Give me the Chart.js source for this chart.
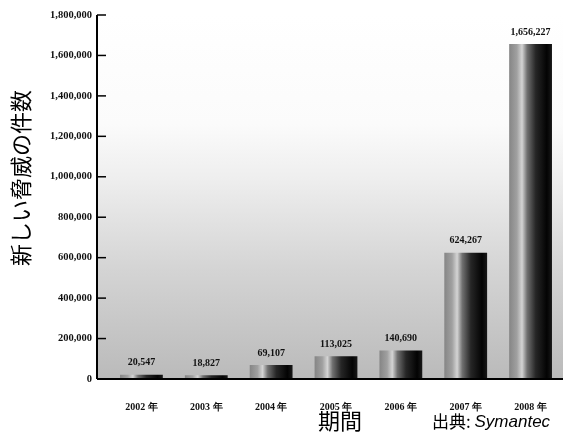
<!DOCTYPE html>
<html>
<head>
<meta charset="utf-8">
<script src="https://cdn.jsdelivr.net/npm/chart.js@4/dist/chart.umd.min.js"></script>
<style>
  html, body { margin: 0; padding: 0; background: #fff; }
  #wrap { width: 580px; height: 439px; }
</style>
</head>
<body>
<div id="wrap"><canvas id="threatChart" width="580" height="439"></canvas></div>
<script>
const years = ['2002 年', '2003 年', '2004 年', '2005 年', '2006 年', '2007 年', '2008 年'];
const threatCounts = [20547, 18827, 69107, 113025, 140690, 624267, 1656227];
const yTicks = [0, 200000, 400000, 600000, 800000, 1000000, 1200000, 1400000, 1600000, 1800000];

const yTitle = '新しい脅威の件数';
const xTitle = '期間';
const sourceLabel = '出典: ';
const sourceName = 'Symantec';

const AXIS_GAP = 12; // y axis line sits left of the first category
const BAR_PCT = 0.66;

function fmt(n) {
  return n.toLocaleString('en-US');
}

function barGradient(ctx) {
  const chart = ctx.chart;
  const xs = chart.scales.x;
  if (!xs || !xs.width) return '#555';
  const cx = xs.getPixelForValue(ctx.dataIndex);
  const w = (xs.width / years.length) * BAR_PCT;
  const x0 = cx - w / 2;
  const g = chart.ctx.createLinearGradient(x0, 0, x0 + w, 0);
  g.addColorStop(0, '#858585');
  g.addColorStop(0.18, '#a0a0a0');
  g.addColorStop(0.3, '#d4d4d4');
  g.addColorStop(0.42, '#707070');
  g.addColorStop(0.62, '#262626');
  g.addColorStop(0.88, '#030303');
  g.addColorStop(1, '#181818');
  return g;
}

// plot background, axis lines and inward tick marks
const backdrop = {
  id: 'backdrop',
  beforeDatasetsDraw(chart) {
    const { ctx, chartArea: a } = chart;
    const left = a.left - AXIS_GAP;
    ctx.save();
    const g = ctx.createLinearGradient(0, a.top, 0, a.bottom);
    g.addColorStop(0, '#ffffff');
    g.addColorStop(0.3, '#fbfbfb');
    g.addColorStop(0.45, '#eeeeee');
    g.addColorStop(0.7, '#d4d4d4');
    g.addColorStop(1, '#bababa');
    ctx.fillStyle = g;
    ctx.fillRect(left, a.top, a.right - left, a.bottom - a.top);
    ctx.restore();
  },
  afterDatasetsDraw(chart) {
    const { ctx, chartArea: a, scales } = chart;
    const left = a.left - AXIS_GAP;
    ctx.save();
    ctx.strokeStyle = '#000';
    ctx.lineWidth = 2;
    ctx.beginPath();
    ctx.moveTo(left, a.top);
    ctx.lineTo(left, a.bottom);
    ctx.moveTo(left, a.bottom);
    ctx.lineTo(a.right, a.bottom);
    ctx.stroke();
    ctx.lineWidth = 1.5;
    yTicks.forEach(v => {
      const y = scales.y.getPixelForValue(v);
      ctx.beginPath();
      ctx.moveTo(left, y);
      ctx.lineTo(left + 9, y);
      ctx.stroke();
    });
    // value labels above bars
    ctx.fillStyle = '#111';
    ctx.font = 'bold 10px "Liberation Serif"';
    ctx.textAlign = 'center';
    ctx.textBaseline = 'bottom';
    chart.getDatasetMeta(0).data.forEach((bar, i) => {
      ctx.fillText(fmt(threatCounts[i]), bar.x, bar.y - 7);
    });
    ctx.restore();
  },
  afterDraw(chart) {
    const { ctx } = chart;
    ctx.save();
    ctx.fillStyle = '#000';
    ctx.textBaseline = 'middle';
    ctx.translate(21, 178);
    ctx.rotate(-Math.PI / 2);
    ctx.textAlign = 'center';
    ctx.font = '22px "Noto Sans CJK JP"';
    ctx.fillText(yTitle, 0, 0);
    ctx.restore();
    ctx.save();
    ctx.fillStyle = '#000';
    ctx.textBaseline = 'middle';
    ctx.textAlign = 'center';
    ctx.font = '22px "Noto Sans CJK JP"';
    ctx.fillText(xTitle, 340, 421);
    ctx.textAlign = 'left';
    ctx.font = '17px "Noto Sans CJK JP"';
    ctx.fillText(sourceLabel, 432, 422);
    const w = ctx.measureText(sourceLabel).width;
    ctx.font = 'italic 17px "Liberation Sans"';
    ctx.fillText(sourceName, 432 + w, 422);
    ctx.restore();
  }
};

new Chart(document.getElementById('threatChart').getContext('2d'), {
  type: 'bar',
  data: {
    labels: years,
    datasets: [{
      label: yTitle,
      data: threatCounts,
      backgroundColor: barGradient,
      borderWidth: 0,
      categoryPercentage: 1,
      barPercentage: BAR_PCT
    }]
  },
  options: {
    responsive: false,
    animation: false,
    layout: { padding: { top: 15, right: 17, left: 0, bottom: 0 } },
    plugins: {
      legend: { display: false },
      tooltip: { enabled: false }
    },
    scales: {
      x: {
        grid: { display: false, drawTicks: false },
        border: { display: false },
        ticks: {
          color: '#111',
          padding: 22,
          maxRotation: 0,
          font: { family: 'Liberation Serif', size: 10, weight: 'bold' }
        },
        afterFit(scale) { scale.height = 60; }
      },
      y: {
        min: 0,
        max: 1800000,
        afterBuildTicks(scale) { scale.ticks = yTicks.map(v => ({ value: v })); },
        grid: { display: false, drawTicks: false },
        border: { display: false },
        ticks: {
          color: '#111',
          padding: AXIS_GAP + 5,
          callback: v => fmt(v),
          font: { family: 'Liberation Serif', size: 10.5, weight: 'bold' }
        },
        afterFit(scale) {
          scale.width = 97 + AXIS_GAP;
          scale.paddingTop = 0;
          scale.paddingBottom = 0;
        }
      }
    }
  },
  plugins: [backdrop]
});
</script>
</body>
</html>
